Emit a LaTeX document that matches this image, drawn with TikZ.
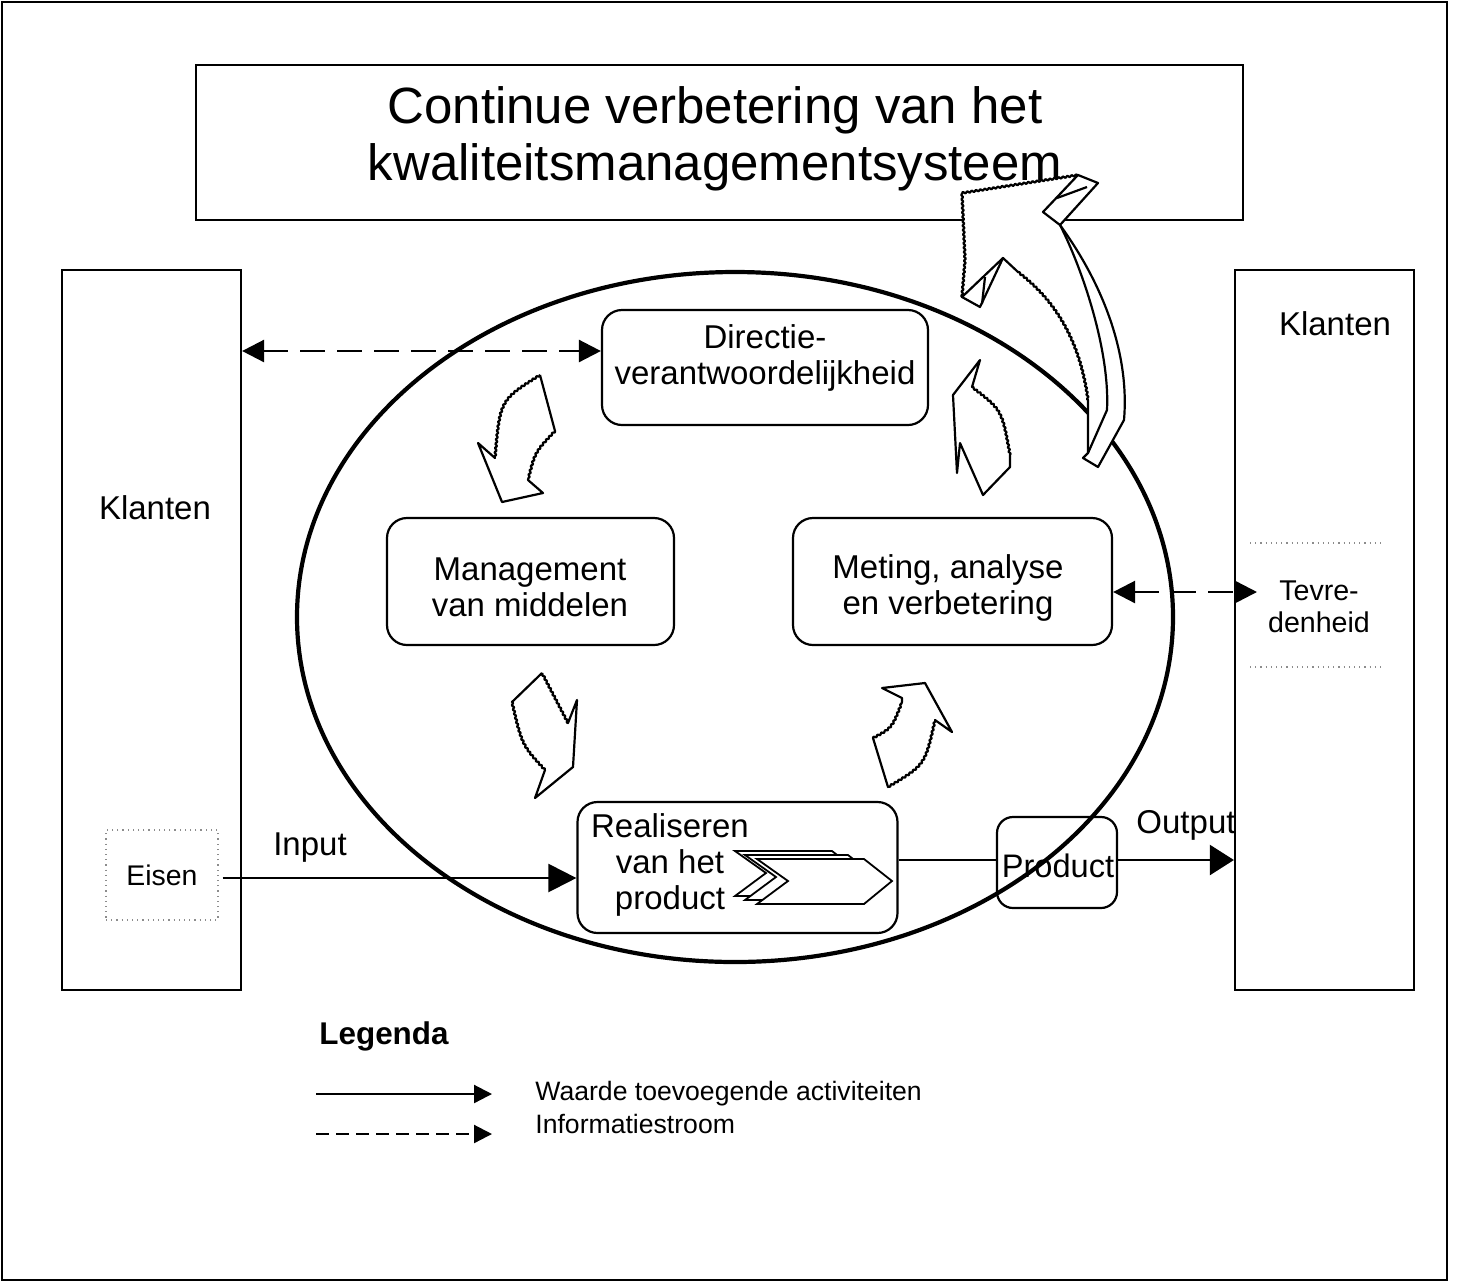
\documentclass[tikz,border=0pt]{standalone}
\usepackage{fontspec}
\setmainfont{Liberation Sans}
\usetikzlibrary{arrows.meta,decorations.pathmorphing}
\begin{document}
\begin{tikzpicture}[x=0.5pt,y=-0.5pt,
  box/.style={draw,line width=1.1pt,inner sep=0pt},
  rbox/.style={box,rounded corners=10pt},
  lbl/.style={font=\fontsize{16.5}{18}\selectfont,align=center,inner sep=0pt},
  barrow/.style={draw,line width=1.1pt,line join=round},
  wavy/.style={decoration={zigzag,segment length=2.2pt,amplitude=0.45pt}},
  flow/.style={line width=1.1pt,-{Triangle[length=14pt,width=14pt]}},
  info/.style={line width=1.3pt,dash pattern=on 12.5pt off 6pt,{Triangle[length=11pt,width=11pt]}-{Triangle[length=11pt,width=11pt]}},
  dotbox/.style={draw=black!45,dotted,line width=0.6pt}
]
\useasboundingbox (0,0) rectangle (1458,1282);
% outer frame
\draw[line width=1.2pt] (2,2) rectangle (1447,1280);

% title
\node[box,minimum width=523.5pt,minimum height=77.5pt] (titlebox) at (719.5,142.5) {};
\node[font=\fontsize{25.5}{28.5}\selectfont,align=center,inner sep=0pt] (title) at (715,139) {Continue verbetering van het\\kwaliteitsmanagementsysteem};

% ellipse
\draw[line width=2.1pt] (735,617) ellipse [x radius=219pt,y radius=172.5pt];

% customers
\node[box,minimum width=89.5pt,minimum height=360pt] (klL) at (151.5,630) {};
\node[lbl] (klLt) at (155,508) {Klanten};
\node[box,minimum width=89.5pt,minimum height=360pt] (klR) at (1324.5,630) {};
\node[lbl] (klRt) at (1335,324) {Klanten};

% eisen / tevredenheid
\node[dotbox,minimum width=56pt,minimum height=45pt,inner sep=0pt,font=\fontsize{14.2}{16}\selectfont] (eisen) at (162,875) {Eisen};
\draw[dotbox] (1250,543) -- (1385,543);
\draw[dotbox] (1250,667) -- (1385,667);
\node[font=\fontsize{14.3}{16}\selectfont,align=center,inner sep=0pt] (tev) at (1319,607) {Tevre-\\denheid};

% process boxes
\node[rbox,minimum width=163pt,minimum height=57.5pt] (dir) at (765,367.5) {};
\node[lbl] (dirt) at (765,358) {Directie-\\verantwoordelijkheid};
\node[rbox,minimum width=143.5pt,minimum height=63.5pt] (man) at (530.5,581.5) {};
\node[lbl] (mant) at (530,587) {Management\\van middelen};
\node[rbox,minimum width=159.5pt,minimum height=63.5pt] (met) at (952.5,581.5) {};
\node[lbl] (mett) at (948,587.5) {Meting, analyse\\en verbetering};
\node[rbox,minimum width=160pt,minimum height=65.5pt] (real) at (737.5,867.5) {};
\node[lbl] (realt) at (670,865) {Realiseren\\van het\\product};
\node[rbox,rounded corners=8pt,minimum width=60pt,minimum height=45.5pt] (prod) at (1057,862.5) {};
\node[inner sep=0pt,font=\fontsize{16.3}{18}\selectfont] (prodt) at (1058,866) {Product};

% chevrons
\foreach \dx/\dy/\w in {0/0/97, 10/4/103, 22/8/107}{
  \draw[line width=0.9pt,fill=white,line join=miter]
    (735+\dx,851+\dy) -- (735+\dx+\w,851+\dy) -- (735+\dx+\w+28,873+\dy)
    -- (735+\dx+\w,896+\dy) -- (735+\dx,896+\dy) -- (766+\dx,873+\dy) -- cycle;
}

% block arrows (small)
\fill[white] (540,375) -- (555,431) .. controls (535,452) .. (528,480) -- (543,493) -- (502,502) -- (478,443) -- (495,458) .. controls (500,400) .. (540,375) -- cycle;
\draw[barrow] (540,375) -- (555,431) decorate[wavy]{.. controls (535,452) .. (528,480)} -- (543,493) -- (502,502) -- (478,443) -- (495,458) decorate[wavy]{.. controls (500,400) .. (540,375)};

\fill[white] (542,673) -- (512,702) -- (545,770) -- (535,798) -- (573,767) -- (577,700) -- (568,723) -- cycle;
\draw[barrow] (542,673) -- (512,702) decorate[wavy]{.. controls (522,745) .. (545,770)} -- (535,798) -- (573,767) -- (577,700) -- (568,723) decorate[wavy]{-- (542,673)};

\fill[white] (882,688) -- (925,683) -- (952,732) -- (935,720) -- (888,787) -- (873,738) -- (902,702) -- (902,698) -- cycle;
\draw[barrow] (882,688) -- (925,683) -- (952,732) -- (935,720) decorate[wavy]{.. controls (925,765) .. (888,787)} -- (873,738) decorate[wavy]{.. controls (892,728) .. (902,702)} -- (902,698) -- cycle;

\fill[white] (980,360) -- (972,387) -- (1010,455) -- (1010,467) -- (983,495) -- (960,443) -- (957,473) -- (953,395) -- cycle;
\draw[barrow] (980,360) -- (972,387) decorate[wavy]{.. controls (1002,410) .. (1010,455)} -- (1010,467) -- (983,495) -- (960,443) -- (957,473) -- (953,395) -- cycle;

% big curved arrow
\fill[white] (962,193) -- (1078,175) -- (1098,183) -- (1060,225) .. controls (1100,280) and (1130,350) .. (1124,420) -- (1098,467) -- (1083,458) -- (1088,453) -- (1088,400) .. controls (1080,340) and (1055,300) .. (1018,272) -- (1003,258) -- (980,307) -- (962,297) -- (965,260) -- cycle;
\draw[barrow] (962,193) decorate[wavy]{-- (1078,175)} -- (1098,183) -- (1060,225) .. controls (1100,280) and (1130,350) .. (1124,420) -- (1098,467) -- (1083,458) -- (1088,453) -- (1088,400) decorate[wavy]{.. controls (1080,340) and (1055,300) .. (1018,272)} -- (1003,258) -- (980,307) -- (962,297) decorate[wavy]{-- (965,260) -- (962,193)};
\draw[barrow] (1078,175) -- (1043,212) -- (1060,225);
\draw[barrow] (1057,198) -- (1087,187);
\draw[barrow] (1060,225) .. controls (1082,268) and (1110,350) .. (1107,410) -- (1088,453);
\draw[barrow] (1003,258) -- (962,297);
\draw[barrow] (985,277) -- (982,304);

% connectors
\coordinate (dA) at (0,351);
\draw[info] (klL.east |- dA) -- (dir.west |- dA);
\coordinate (dR) at (1257,592);
\draw[info] (met.east |- dR) -- (dR);
\coordinate (iy) at (0,878);
\draw[flow] ([xshift=2pt]eisen.east |- iy) -- (real.west |- iy);
\node[lbl] (inlbl) at (310,848) {Input};
\coordinate (py) at (0,860);
\draw[line width=1.1pt] (real.east |- py) -- (prod.west |- py);
\draw[line width=1.1pt,-{Triangle[length=12pt,width=15pt]}] (prod.east |- py) -- (klR.west |- py);
\node[lbl] (outlbl) at (1186,825) {Output};

% legend
\node[font=\bfseries\fontsize{15.7}{18}\selectfont,inner sep=0pt] (leg) at (384,1036) {Legenda};
\coordinate (l1a) at (316,1094);
\coordinate (l1b) at (492,1094);
\coordinate (l2a) at (316,1134);
\coordinate (l2b) at (492,1134);
\draw[line width=1.1pt,-{Triangle[length=9pt,width=9pt]}] (l1a) -- (l1b);
\draw[line width=1.1pt,dash pattern=on 6.5pt off 3.5pt,-{Triangle[length=9pt,width=9pt]}] (l2a) -- (l2b);
\node[anchor=west,inner sep=0pt,font=\fontsize{13.3}{15}\selectfont] (leg1) at (535,1094) {Waarde toevoegende activiteiten};
\node[anchor=west,inner sep=0pt,font=\fontsize{13.3}{15}\selectfont] (leg2) at (535,1124) {Informatiestroom};
\end{tikzpicture}
\end{document}
